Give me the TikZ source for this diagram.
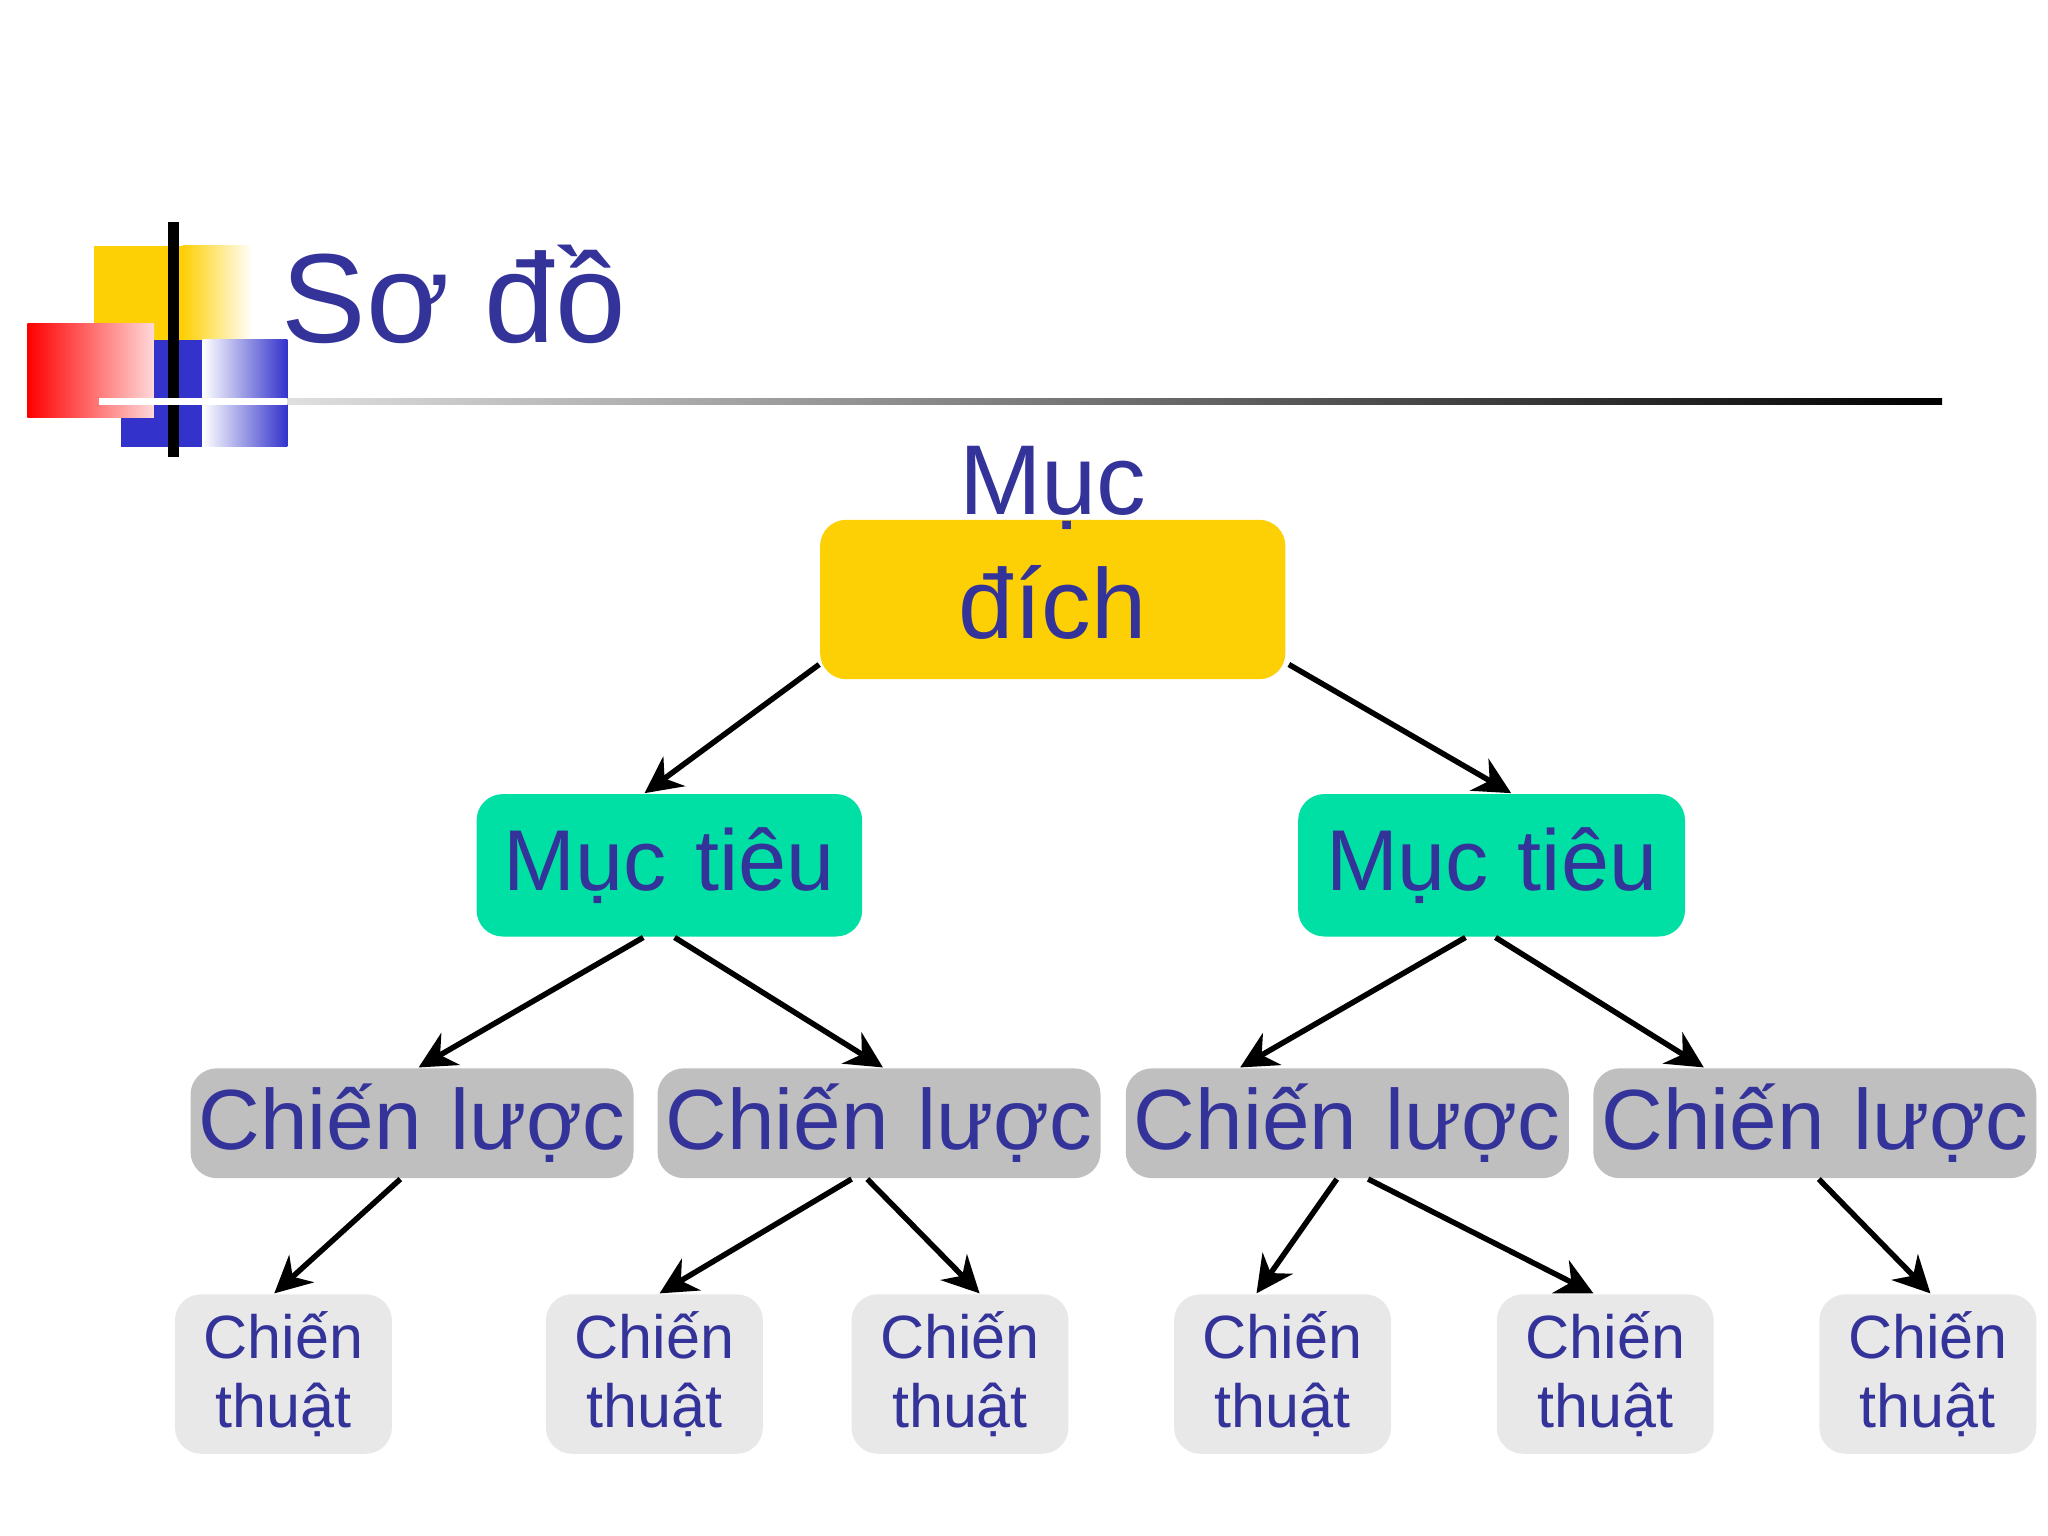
\documentclass[tikz,border=0pt]{standalone}
\usepackage{fontspec}
\setmainfont{Liberation Sans}
\usetikzlibrary{arrows.meta,calc,shadings}
\definecolor{txt}{HTML}{333399}
\definecolor{yel}{HTML}{FDD005}
\definecolor{grn}{HTML}{00E0A4}
\definecolor{gry}{HTML}{BFBFBF}
\definecolor{lgr}{HTML}{E8E8E8}
\definecolor{blu}{HTML}{3333CC}
\tikzset{
 box/.style={rounded corners=0.2cm,inner sep=0pt,text=txt,align=center},
 arr/.style={line width=1.2pt,-{Stealth[length=8pt,width=8pt]}},
}
\begin{document}
\begin{tikzpicture}[x=0.01cm,y=-0.01cm]
\useasboundingbox (0,0) rectangle (1568,1176);
\fill[white] (0,0) rectangle (1568,1176);
% logo
\fill[yel] (72,188) rectangle (140,260);
\shade[left color=yel,right color=white] (140,188) rectangle (193,260);
\shade[left color=red,right color=red!15!white] (21,248) rectangle (118,320);
\fill[blu] (118,260) rectangle (155,342);
\fill[blu] (93,320) rectangle (118,342);
\shade[left color=white,right color=blu] (155,260) rectangle (220,342);
\draw[line width=2.5pt] (133,170) -- (133,350);
\shade[left color=gray!25,right color=black] (220,305) rectangle (1487,310);
\fill[white] (76,305) rectangle (220,310);
\node[anchor=base west,text=txt,font=\fontsize{27.6}{30}\selectfont,inner sep=0pt] (title) at (215,262) {Sơ đồ};
% nodes
\node[box,fill=yel,minimum width=3.56cm,minimum height=1.22cm] (mdbox) at (806,459) {};
\node[box,font=\fontsize{21.6}{27}\selectfont] (md) at (806,416) {Mục\\đích};
\node[box,fill=grn,text width=2.95cm,minimum height=1.09cm,font=\fontsize{18.8}{22}\selectfont] (mt1) at (512.5,662.5) {Mục tiêu};
\node[box,fill=grn,text width=2.96cm,minimum height=1.09cm,font=\fontsize{18.8}{22}\selectfont] (mt2) at (1142,662.5) {Mục tiêu};
\foreach \n/\x in {cl1/315.5,cl2/673,cl3/1031.5,cl4/1389.5}
 \node[box,fill=gry,text width=3.39cm,minimum height=0.84cm,font=\fontsize{18.6}{22}\selectfont] (\n) at (\x,860) {Chiến lược};
\foreach \n/\x in {ct1/217,ct2/501,ct3/735,ct4/982,ct5/1229,ct6/1476}
 \node[box,fill=lgr,text width=1.66cm,minimum height=1.22cm,font=\fontsize{13.3}{15}\selectfont] (\n) at (\x,1052) {Chiến\\thuật};
% arrows
\draw[arr] ($(mdbox.south west)+(0,-12)$) -- ($(mt1.north)+(-19,0)$);
\draw[arr] ($(mdbox.south east)+(2,-12)$) -- ($(mt2.north)+(15,0)$);
\draw[arr] ($(mt1.south)+(-20,0)$) -- ($(cl1.north)+(5,0)$);
\draw[arr] ($(mt1.south)+(4,0)$) -- ($(cl2.north)+(3,0)$);
\draw[arr] ($(mt2.south)+(-20,0)$) -- ($(cl3.north)+(-82,0)$);
\draw[arr] ($(mt2.south)+(3,0)$) -- ($(cl4.north)+(-85,0)$);
\draw[arr] ($(cl1.south)+(-9,0)$) -- ($(ct1.north)+(-7,0)$);
\draw[arr] ($(cl2.south)+(-21,0)$) -- ($(ct2.north)+(4,0)$);
\draw[arr] ($(cl2.south)+(-9,0)$) -- ($(ct3.north)+(15,0)$);
\draw[arr] ($(cl3.south)+(-8,0)$) -- ($(ct4.north)+(-20,0)$);
\draw[arr] ($(cl3.south)+(16,0)$) -- ($(ct5.north)+(-9,0)$);
\draw[arr] ($(cl4.south)+(3,0)$) -- ($(ct6.north)+(2,0)$);
\end{tikzpicture}
\end{document}
